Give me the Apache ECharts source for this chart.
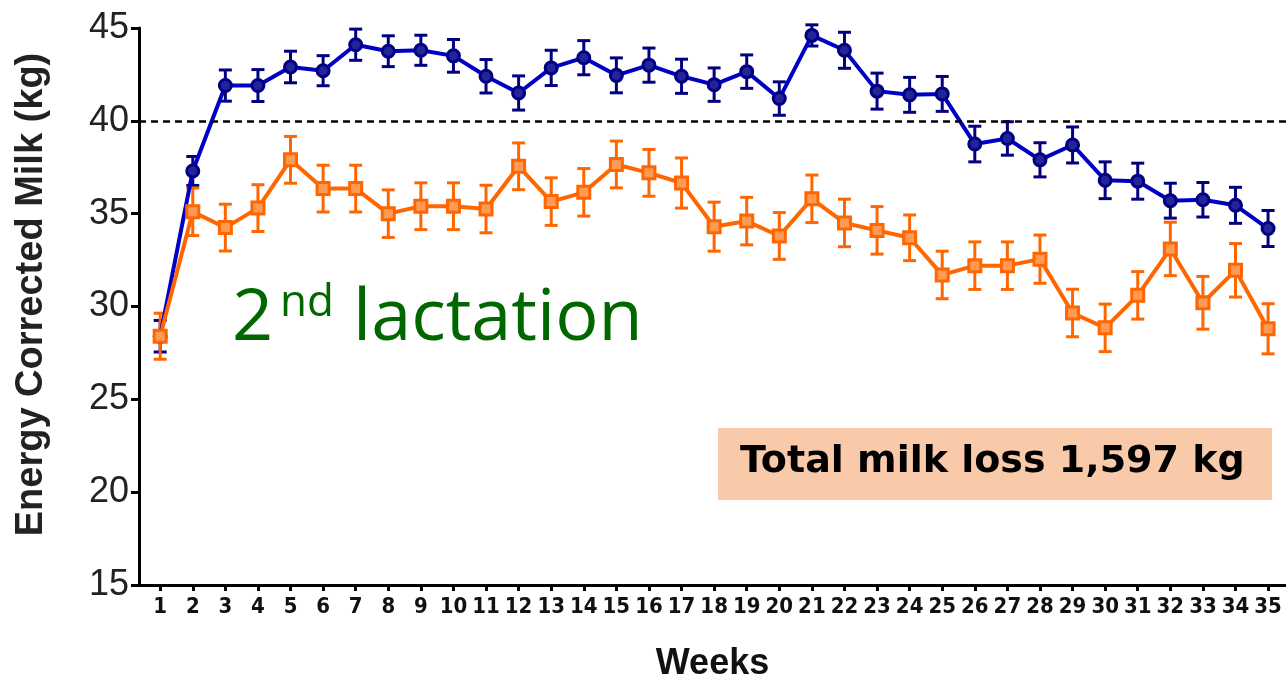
<!DOCTYPE html>
<html><head><meta charset="utf-8">
<script src="https://cdn.jsdelivr.net/npm/echarts@6/dist/echarts.min.js"></script>
<style>html,body{margin:0;padding:0;background:#fff}#c{width:1286px;height:680px}</style>
</head><body><div id="c"></div>
<script>
const weeks = [1,2,3,4,5,6,7,8,9,10,11,12,13,14,15,16,17,18,19,20,21,22,23,24,25,26,27,28,29,30,31,32,33,34,35];
const yTicks = [15,20,25,30,35,40,45];
const blueMean = [28.4,37.3,41.9,41.9,42.9,42.7,44.1,43.75,43.8,43.5,42.4,41.5,42.85,43.4,42.45,43.0,42.4,41.95,42.65,41.2,44.6,43.8,41.6,41.4,41.45,38.75,39.05,37.9,38.7,36.8,36.75,35.7,35.75,35.45,34.2];
const blueErr = [0.85,0.78,0.84,0.86,0.85,0.81,0.84,0.83,0.81,0.88,0.9,0.92,0.95,0.92,0.94,0.92,0.92,0.9,0.9,0.9,0.57,0.97,0.97,0.94,0.94,0.96,0.9,0.92,0.97,0.99,0.97,0.94,0.93,0.97,0.97];
const orangeMean = [28.4,35.1,34.25,35.3,37.9,36.35,36.35,35.0,35.4,35.4,35.25,37.55,35.65,36.15,37.65,37.2,36.65,34.3,34.6,33.8,35.8,34.5,34.1,33.7,31.7,32.2,32.2,32.55,29.65,28.85,30.6,33.1,30.2,31.95,28.8];
const orangeErr = [1.24,1.28,1.26,1.26,1.26,1.26,1.26,1.28,1.26,1.26,1.28,1.26,1.28,1.28,1.26,1.26,1.35,1.32,1.28,1.26,1.28,1.28,1.28,1.23,1.28,1.28,1.28,1.3,1.28,1.28,1.28,1.44,1.42,1.44,1.35];
const refValue = 40;
const yAxisTitle = 'Energy Corrected Milk (kg)';
const xAxisTitle = 'Weeks';
const boxText = 'Total milk loss 1,597 kg';

const BLUE_LINE = '#0000c4', BLUE_DARK = '#000080';
const ORANGE = '#ff6600';

function errRenderer(color) {
  return function (params, api) {
    const x = api.value(0), m = api.value(1), e = api.value(2);
    const top = api.coord([x, m + e]), bot = api.coord([x, m - e]);
    const hw = 6.5;
    const st = { stroke: color, lineWidth: 3 };
    return { type: 'group', children: [
      { type: 'line', shape: { x1: top[0], y1: top[1], x2: bot[0], y2: bot[1] }, style: st },
      { type: 'line', shape: { x1: top[0] - hw, y1: top[1], x2: top[0] + hw, y2: top[1] }, style: st },
      { type: 'line', shape: { x1: bot[0] - hw, y1: bot[1], x2: bot[0] + hw, y2: bot[1] }, style: st }
    ]};
  };
}

const chart = echarts.init(document.getElementById('c'), null, { renderer: 'canvas' });
chart.setOption({
  animation: false,
  backgroundColor: '#fff',
  grid: { left: 139, right: 0, top: 28, bottom: 95, outerBoundsMode: 'none', containLabel: false },
  xAxis: {
    type: 'value', min: 0.35, max: 35.55,
    axisLine: { show: true, lineStyle: { color: '#000', width: 3 } },
    axisTick: { show: true, customValues: weeks, length: 6, lineStyle: { color: '#000', width: 3 } },
    axisLabel: { customValues: weeks, margin: 11, color: '#111', fontSize: 22, fontWeight: 'bold',
      fontFamily: "'Liberation Sans Narrow', 'DejaVu Sans Condensed', sans-serif" },
    splitLine: { show: false },
    name: xAxisTitle, nameLocation: 'middle', nameGap: 61,
    nameTextStyle: { fontSize: 36, fontWeight: 'bold', color: '#111', fontFamily: "'Liberation Sans', Arial, sans-serif" }
  },
  yAxis: {
    type: 'value', min: yTicks[0], max: yTicks[yTicks.length - 1], interval: 5,
    axisLine: { show: true, lineStyle: { color: '#000', width: 3 } },
    axisTick: { show: true, length: 8, lineStyle: { color: '#000', width: 3 } },
    axisLabel: { margin: 10, color: '#222', fontSize: 36, fontFamily: "'Liberation Sans', Arial, sans-serif" },
    splitLine: { show: false },
    name: yAxisTitle, nameLocation: 'middle', nameGap: 88,
    nameTextStyle: { fontSize: 38, fontWeight: 'bold', color: '#222', padding: [0, 0, 0, 24],
      fontFamily: "'Liberation Sans', Arial, sans-serif" }
  },
  series: [
    { type: 'custom', renderItem: errRenderer(BLUE_DARK), encode: { x: 0, y: 1 },
      data: weeks.map((w, i) => [w, blueMean[i], blueErr[i]]), silent: true },
    { type: 'line', data: weeks.map((w, i) => [w, blueMean[i]]),
      lineStyle: { color: BLUE_LINE, width: 4 },
      symbol: 'circle', symbolSize: 12,
      itemStyle: { color: '#24249a', borderColor: BLUE_DARK, borderWidth: 3 },
      markLine: { silent: true, symbol: ['none', 'none'], label: { show: false },
        lineStyle: { color: '#000', type: [7, 5], width: 2.5 },
        data: [{ yAxis: refValue }] } },
    { type: 'custom', renderItem: errRenderer(ORANGE), encode: { x: 0, y: 1 },
      data: weeks.map((w, i) => [w, orangeMean[i], orangeErr[i]]), silent: true },
    { type: 'line', data: weeks.map((w, i) => [w, orangeMean[i]]),
      lineStyle: { color: ORANGE, width: 4 },
      symbol: 'rect', symbolSize: 12,
      itemStyle: { color: '#ff9a55', borderColor: ORANGE, borderWidth: 3 } }
  ],
  graphic: [
    { type: 'text', left: 232, top: 283, style: { text: '2', fill: '#006600', font: "72px 'Open Sans', sans-serif" } },
    { type: 'text', left: 280, top: 281, style: { text: 'nd', fill: '#006600', font: "44px 'Open Sans', sans-serif" } },
    { type: 'text', left: 353, top: 283, style: { text: 'lactation', fill: '#006600', font: "72px 'Open Sans', sans-serif" } },
    { type: 'rect', left: 718, top: 428, shape: { width: 554, height: 72 }, style: { fill: '#f8caa9' } },
    { type: 'text', left: 740, top: 443, style: { text: boxText, fill: '#000', font: "bold 38px 'DejaVu Sans', sans-serif" } }
  ]
});
</script>
</body></html>
